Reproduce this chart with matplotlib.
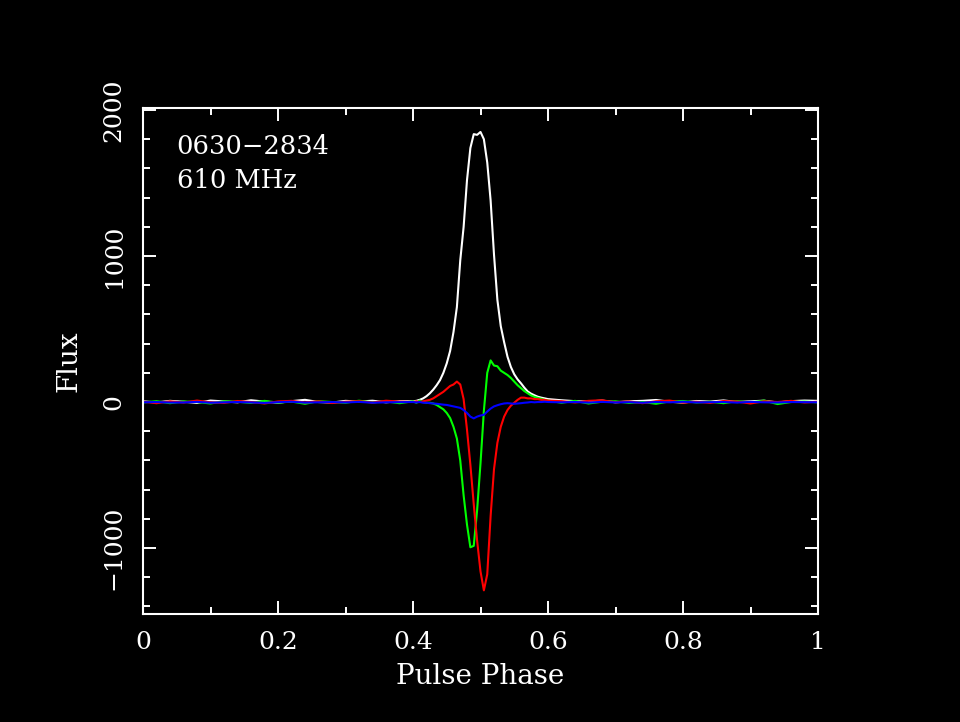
import numpy as np
import matplotlib
matplotlib.use('Agg')
import matplotlib.pyplot as plt
from matplotlib.ticker import MultipleLocator

# phase grid: off-pulse every 0.02, on-pulse every 0.005
off1 = [0.00, 0.02, 0.04, 0.06, 0.08, 0.10, 0.12, 0.14, 0.16, 0.18,
        0.20, 0.22, 0.24, 0.26, 0.28, 0.30, 0.32, 0.34, 0.36, 0.38]
onp = [0.400, 0.405, 0.410, 0.415, 0.420, 0.425, 0.430, 0.435, 0.440, 0.445,
       0.450, 0.455, 0.460, 0.465, 0.470, 0.475, 0.480, 0.485, 0.490, 0.495,
       0.500, 0.505, 0.510, 0.515, 0.520, 0.525, 0.530, 0.535, 0.540, 0.545,
       0.550, 0.555, 0.560, 0.565, 0.570, 0.575, 0.580, 0.585, 0.590, 0.595,
       0.600]
off2 = [0.62, 0.64, 0.66, 0.68, 0.70, 0.72, 0.74, 0.76, 0.78, 0.80,
        0.82, 0.84, 0.86, 0.88, 0.90, 0.92, 0.94, 0.96, 0.98, 1.00]
phase = off1 + onp + off2

# total intensity (white)
flux_I = ([5, -3, 8, 2, -6, 10, 4, -2, 12, 3, -5, 6, 15, 0, -4, 8, 3, 9, -2, 6]
          + [5, 8, 15, 25, 40, 60, 85, 115, 150, 200,
             265, 350, 480, 650, 970, 1200, 1520, 1740, 1835, 1830,
             1850, 1800, 1640, 1380, 1010, 700, 520, 410, 310, 240,
             190, 155, 128, 98, 72, 57, 46, 36, 30, 25, 20]
          + [12, 6, 3, 10, -2, 5, 8, 14, 2, -4, 7, 3, 11, 0, 5, 9, -3, 6, 10, 8])

# green
flux_Q = ([-3, 6, -8, 4, 0, -10, 5, 2, -6, 8, -4, 3, -12, 6, 0, -5, 9, -2, 4, -8]
          + [5, -5, 10, 0, -5, -5, -10, -20, -35, -50,
             -75, -110, -170, -250, -400, -640, -840, -995, -985, -740,
             -420, -60, 200, 285, 250, 245, 215, 200, 185, 165,
             140, 115, 95, 75, 60, 45, 35, 28, 22, 15, 10]
          + [-5, 8, -10, 2, 5, -6, 0, -12, 4, 7, -3, 2, -8, 6, -4, 10, -14, 0, 3, -2])

# red
flux_U = ([2, -8, 5, -4, 10, -2, -6, 7, 0, -10, 4, 8, -3, 5, -7, 2, 6, -4, 9, 3]
          + [0, 5, 0, 5, 10, 15, 25, 40, 55, 70,
             90, 110, 120, 140, 120, 20, -190, -430, -700, -950,
             -1160, -1290, -1180, -780, -460, -280, -170, -100, -55, -25,
             -5, 15, 30, 30, 25, 25, 20, 20, 15, 15, 10]
          + [6, -3, 8, 12, -2, 4, -8, 5, 10, -4, 2, -6, 7, 3, -10, 5, 0, 8, -3, 2])

# blue
flux_V = ([-2, 0, -4, -3, 1, -5, -2, 0, -3, -6, -1, 2, -4, -2, 0, -3, 1, -5, -2, -1]
          + [0, -3, 0, -5, -5, -8, -10, -12, -15, -18,
             -20, -25, -30, -35, -40, -55, -75, -100, -112, -100,
             -92, -88, -65, -45, -30, -22, -15, -10, -8, -10,
             -12, -10, -8, -5, -3, 0, -2, 0, 0, 2, 0]
          + [-2, 0, -4, 1, -3, -1, -5, 0, -2, 2, -3, -1, 0, -4, 1, -2, -3, 0, -1, -2])

plt.rcParams['font.family'] = ['DejaVu Serif']
fs = 18

fig = plt.figure(figsize=(9.6, 7.22), dpi=100, facecolor='black')
ax = fig.add_axes([143/960, 1-614/722, 675/960, 506/722], facecolor='black')

ax.plot(phase, flux_I, color='white', lw=1.5)
ax.plot(phase, flux_Q, color='#00ff00', lw=1.5)
ax.plot(phase, flux_U, color='#ff0000', lw=1.5)
ax.plot(phase, flux_V, color='#0000ff', lw=1.5)

ax.set_xlim(0, 1)
ax.set_ylim(-1452, 2014)
ax.xaxis.set_major_locator(MultipleLocator(0.2))
ax.xaxis.set_minor_locator(MultipleLocator(0.1))
ax.yaxis.set_major_locator(MultipleLocator(1000))
ax.yaxis.set_minor_locator(MultipleLocator(200))
ax.set_xticks([0, 0.2, 0.4, 0.6, 0.8, 1.0])
ax.set_xticklabels(['0', '0.2', '0.4', '0.6', '0.8', '1'])

for s in ax.spines.values():
    s.set_color('white')
    s.set_linewidth(1.5)
ax.tick_params(which='both', direction='in', top=True, right=True,
               colors='white', labelsize=fs, width=1.4)
ax.tick_params(which='major', length=9.4)
ax.tick_params(which='minor', length=5)
ax.tick_params(axis='x', pad=12)
ax.tick_params(axis='y', pad=12.5)
for lab in ax.get_yticklabels():
    lab.set_rotation(90)
    lab.set_va('center')

ax.set_xlabel('Pulse Phase', color='white', fontsize=20)
ax.set_ylabel('Flux', color='white', fontsize=20)
ax.xaxis.set_label_coords(0.5, -0.097)
ax.yaxis.set_label_coords(-0.09, 0.5)

ax.text(0.05, 0.923, '0630\u22122834', transform=ax.transAxes, color='white',
        fontsize=18.5, va='center', ha='left')
ax.text(0.05, 0.856, '610 MHz', transform=ax.transAxes, color='white',
        fontsize=18.5, va='center', ha='left')

fig.savefig('out.png', dpi=100, facecolor='black')
